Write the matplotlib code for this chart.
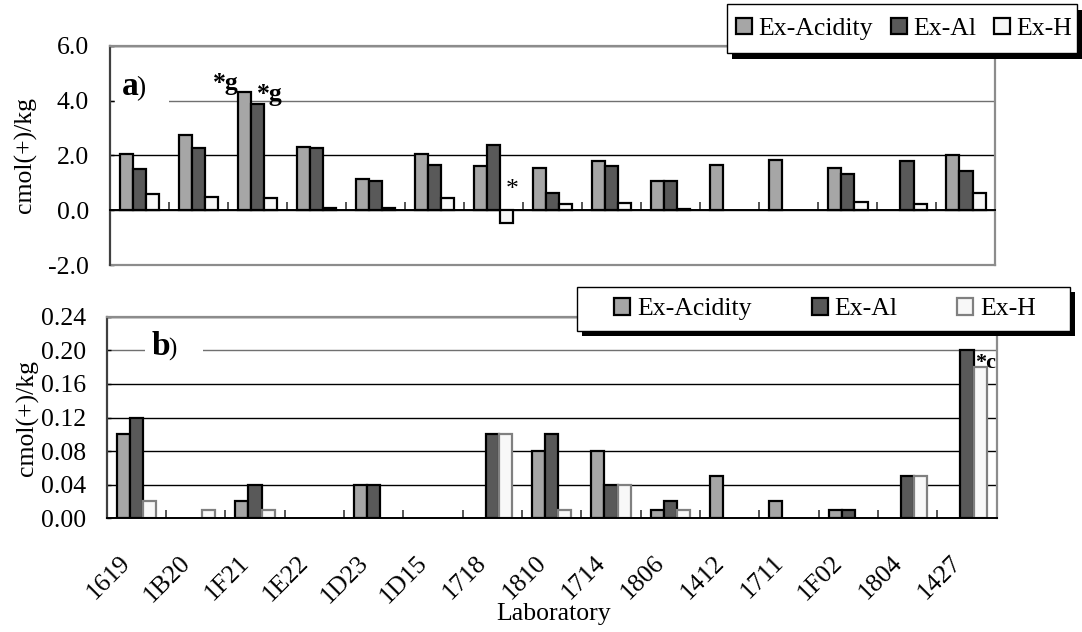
import matplotlib
matplotlib.use('Agg')
import matplotlib.pyplot as plt
import numpy as np
from matplotlib.patches import Rectangle
from matplotlib.ticker import FormatStrFormatter, FixedLocator

plt.rcParams['font.family'] = ['Liberation Serif', 'DejaVu Serif']
plt.rcParams['axes.unicode_minus'] = False

nan = np.nan
labs = ['1619', '1B20', '1F21', '1E22', '1D23', '1D15', '1718', '1810',
        '1714', '1806', '1412', '1711', '1F02', '1804', '1427']
series = ['Ex-Acidity', 'Ex-Al', 'Ex-H']

# panel a (cmol(+)/kg)
acid_a = [2.05, 2.74, 4.30, 2.29, 1.12, 2.05, 1.62, 1.53, 1.81, 1.08, 1.64, 1.83, 1.54, nan, 2.02]
al_a = [1.49, 2.27, 3.87, 2.25, 1.07, 1.66, 2.36, 0.61, 1.60, 1.05, nan, nan, 1.31, 1.81, 1.42]
h_a = [0.59, 0.48, 0.46, 0.07, 0.07, 0.44, -0.48, 0.22, 0.25, 0.06, nan, nan, 0.30, 0.22, 0.64]

# panel b
acid_b = [0.10, nan, 0.02, nan, 0.04, nan, nan, 0.08, 0.08, 0.01, 0.05, 0.02, 0.01, nan, nan]
al_b = [0.12, nan, 0.04, nan, 0.04, nan, 0.10, 0.10, 0.04, 0.02, nan, nan, 0.01, 0.05, 0.20]
h_b = [0.02, 0.01, 0.01, nan, nan, nan, 0.10, 0.01, 0.04, 0.01, nan, nan, nan, 0.05, 0.18]

W, H = 1082, 632
fs = 18.5
fig = plt.figure(figsize=(W / 100, H / 100), dpi=100)
ax1 = fig.add_axes([110 / W, 1 - 265 / H, 885.5 / W, 219.3 / H])
ax2 = fig.add_axes([106.7 / W, 1 - 518.3 / H, 890 / W, 201.6 / H])

x = np.arange(len(labs))
bw = 0.222
c_acid, c_al, c_h = '#a6a6a6', '#595959', '#f8f8f8'


def draw_bars(ax, acid, al, h, h_edge):
    b1 = ax.bar(x - bw, acid, bw, color=c_acid, edgecolor='black', lw=1.6, zorder=2)
    b2 = ax.bar(x, al, bw, color=c_al, edgecolor='black', lw=1.6, zorder=2)
    b3 = ax.bar(x + bw, h, bw, color=c_h, edgecolor=h_edge, lw=1.6, zorder=2)
    return [b1, b2, b3]


def style(ax):
    ax.set_xlim(-0.5, len(labs) - 0.5)
    ax.set_axisbelow(True)
    ax.xaxis.set_major_locator(FixedLocator(np.arange(-0.5, len(labs), 1.0)))
    ax.xaxis.set_major_formatter(plt.NullFormatter())
    ax.tick_params(axis='x', which='major', direction='in', length=6, width=1.4, color='#555555')
    ax.tick_params(axis='y', direction='in', length=3, width=1, color='black',
                   labelsize=fs, pad=15)
    ax.grid(axis='y', color='black', lw=1)
    for s in ['top', 'right']:
        ax.spines[s].set_color('#8c8c8c')
        ax.spines[s].set_linewidth(1.6)
    ax.spines['left'].set_color('#404040')
    ax.spines['left'].set_linewidth(1.6)
    ax.spines['bottom'].set_color('black')
    ax.spines['bottom'].set_linewidth(1.4)
    ax.spines['bottom'].set_zorder(3)


# ---- panel a
bars_a = draw_bars(ax1, acid_a, al_a, h_a, 'black')
ax1.set_ylim(-2, 6)
ax1.set_yticks(np.arange(-2, 6.1, 2))
ax1.yaxis.set_major_formatter(FormatStrFormatter('%.1f'))
ax1.spines['bottom'].set_position(('data', 0))
style(ax1)
ax1.plot([0, 1], [0, 0], transform=ax1.transAxes, color='#8c8c8c', lw=1.6, clip_on=False)
ax1.get_ygridlines()[3].set_color('#707070')
ax1.add_patch(Rectangle((0.006, 3.8), 0.061, 0.4, transform=ax1.get_yaxis_transform(),
                        facecolor='white', edgecolor='none', zorder=1))
ax1.text(-0.302, 4.19, 'a', fontsize=24, fontweight='bold', ha='left', va='baseline')
ax1.text(-0.05, 4.19, ')', fontsize=20, ha='left', va='baseline')
ax1.text(1.46, 4.37, '*g', fontsize=fs, fontweight='bold', ha='center', va='baseline')
ax1.text(2.21, 4.0, '*g', fontsize=fs, fontweight='bold', ha='center', va='baseline')
ax1.text(6.32, 0.75, '*', fontsize=fs, ha='center', va='center')

# ---- panel b
bars_b = draw_bars(ax2, acid_b, al_b, h_b, '#808080')
ax2.set_ylim(0, 0.24)
ax2.set_yticks(np.arange(0, 0.241, 0.04))
ax2.yaxis.set_major_formatter(FormatStrFormatter('%.2f'))
style(ax2)
ax2.get_ygridlines()[5].set_color('#707070')
ax2.add_patch(Rectangle((0.043, 0.19), 0.0655, 0.02, transform=ax2.get_yaxis_transform(),
                        facecolor='white', edgecolor='none', zorder=1))
ax2.text(0.258, 0.194, 'b', fontsize=24, fontweight='bold', ha='left', va='baseline')
ax2.text(0.538, 0.194, ')', fontsize=18, ha='left', va='baseline')
ax2.text(14.32, 0.179, '*c', fontsize=16, fontweight='bold', ha='center', va='baseline')

for i, lab in enumerate(labs):
    ax2.annotate(lab, xy=(i, 0), xycoords=('data', 'axes fraction'),
                 xytext=(-5, -45), textcoords='offset pixels', fontsize=fs,
                 rotation=45, ha='right', va='baseline', rotation_mode='anchor')

fig.text(553.7 / W, 1 - 620 / H, 'Laboratory', fontsize=fs, ha='center', va='baseline')
fig.text(25 / W, 1 - 155.3 / H, 'cmol(+)/kg', fontsize=fs, rotation=90, ha='center', va='center')
fig.text(27.5 / W, 1 - 417.5 / H, 'cmol(+)/kg', fontsize=fs, rotation=90, ha='center', va='center')


def legend_box(handles, x0, y0, x1, y1, cx, sh, colsp):
    fig.add_artist(Rectangle(((x0 + sh) / W, 1 - (y1 + sh) / H), (x1 - x0) / W, (y1 - y0) / H,
                             transform=fig.transFigure, facecolor='black', edgecolor='none', zorder=4))
    fig.add_artist(Rectangle((x0 / W, 1 - y1 / H), (x1 - x0) / W, (y1 - y0) / H,
                             transform=fig.transFigure, facecolor='white', edgecolor='black',
                             lw=1, zorder=4.5))
    leg = fig.legend(handles, series, loc='center', bbox_to_anchor=(cx / W, 1 - (y0 + y1) / 2 / H),
                     ncol=3, frameon=False, fontsize=fs, handlelength=0.62, handleheight=0.62,
                     handletextpad=0.25, columnspacing=colsp, borderpad=0, borderaxespad=0)
    leg.set_zorder(5)
    return leg


legend_box(bars_a, 726.7, 4.3, 1076.7, 53.3, 904, 5.5, 0.7)
legend_box(bars_b, 577.3, 287.3, 1069.6, 331, 825, 5, 2.35)

fig.savefig('out.png', dpi=100)
